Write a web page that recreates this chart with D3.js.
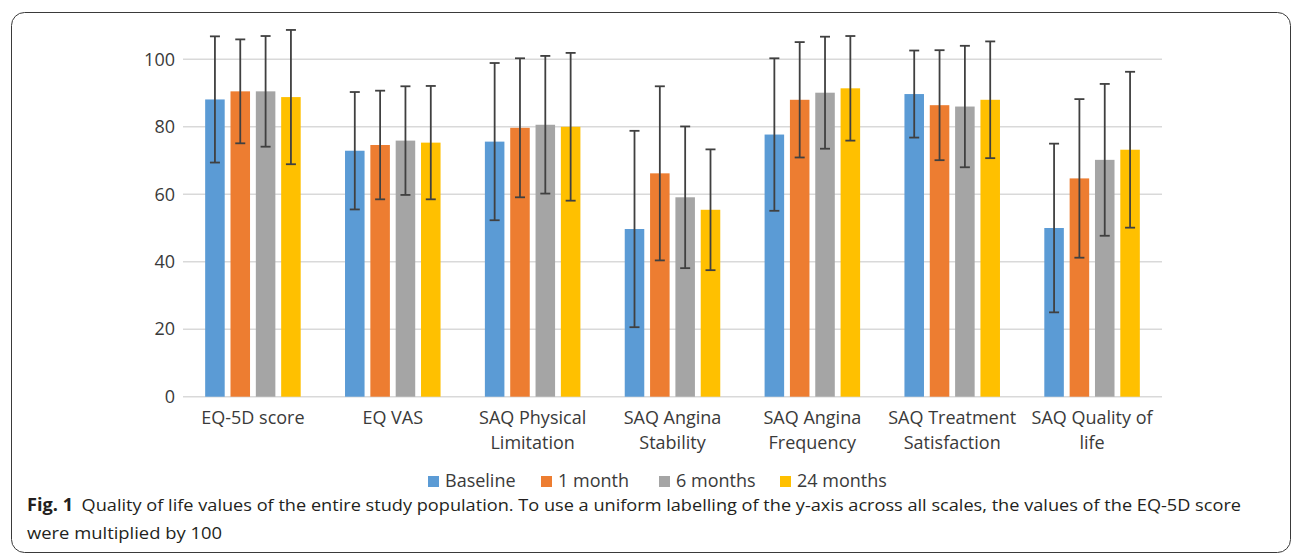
<!DOCTYPE html>
<html>
<head>
<meta charset="utf-8">
<script src="https://cdn.jsdelivr.net/npm/d3@7"></script>
<style>
  html, body { margin: 0; padding: 0; background: #fff; }
  svg { display: block; }
</style>
</head>
<body>
<svg id="chart" width="1296" height="554"></svg>
<script>
// ---------- data ----------
const categories = [
  ["EQ-5D score"],
  ["EQ VAS"],
  ["SAQ Physical", "Limitation"],
  ["SAQ Angina", "Stability"],
  ["SAQ Angina", "Frequency"],
  ["SAQ Treatment", "Satisfaction"],
  ["SAQ Quality of", "life"]
];
const seriesNames = ["Baseline", "1 month", "6 months", "24 months"];
const seriesColors = ["#5B9BD5", "#ED7D31", "#A5A5A5", "#FFC000"];

// means
const baselineMean = [88.1, 72.9, 75.6, 49.7, 77.7, 89.7, 50.0];
const month1Mean   = [90.5, 74.6, 79.7, 66.2, 88.0, 86.4, 64.7];
const month6Mean   = [90.5, 75.9, 80.6, 59.1, 90.1, 86.0, 70.2];
const month24Mean  = [88.8, 75.3, 80.0, 55.4, 91.4, 88.0, 73.2];
// standard deviations (error bars)
const baselineSD = [18.7, 17.4, 23.3, 29.1, 22.6, 12.9, 25.0];
const month1SD   = [15.4, 16.1, 20.6, 25.8, 17.1, 16.3, 23.5];
const month6SD   = [16.4, 16.1, 20.4, 21.0, 16.6, 18.0, 22.5];
const month24SD  = [19.9, 16.8, 21.9, 17.9, 15.5, 17.3, 23.1];

const yTicks = [0, 20, 40, 60, 80, 100];
const captionBold = "Fig. 1";
const captionLine1 = "Quality of life values of the entire study population. To use a uniform labelling of the y-axis across all scales, the values of the EQ-5D score";
const captionLine2 = "were multiplied by 100";

const means = [baselineMean, month1Mean, month6Mean, month24Mean];
const sds = [baselineSD, month1SD, month6SD, month24SD];

// ---------- layout ----------
const svg = d3.select("#chart");
const plotLeft = 183, plotRight = 1162, plotTop = 59.3, plotBottom = 396.7;
const axisFont = "'Open Sans', 'Noto Sans', sans-serif";
const axisSize = 18;
const textColor = "#3a3a3a";

// frame
svg.append("rect")
  .attr("x", 11.5).attr("y", 12.5)
  .attr("width", 1279).attr("height", 540)
  .attr("rx", 13).attr("ry", 13)
  .attr("fill", "none").attr("stroke", "#3a3a3a").attr("stroke-width", 1);

const x0 = d3.scaleBand()
  .domain(d3.range(categories.length))
  .range([plotLeft, plotRight])
  .paddingInner(0).paddingOuter(0);

const x1 = d3.scaleBand()
  .domain(d3.range(seriesNames.length))
  .range([0, x0.bandwidth()])
  .paddingInner(0.229).paddingOuter(0.875);

const y = d3.scaleLinear().domain([0, 100]).range([plotBottom, plotTop]);

// gridlines
svg.append("g").selectAll("line")
  .data(yTicks)
  .join("line")
  .attr("x1", plotLeft).attr("x2", plotRight)
  .attr("y1", d => y(d)).attr("y2", d => y(d))
  .attr("stroke", "#D9D9D9").attr("stroke-width", 1.5);

// y axis labels via d3 axis
const yAxis = d3.axisLeft(y).tickValues(yTicks).tickSize(0).tickPadding(8);
const gy = svg.append("g").attr("transform", `translate(${plotLeft},0)`).call(yAxis);
gy.select(".domain").remove();
gy.selectAll("text")
  .attr("font-family", axisFont).attr("font-size", axisSize)
  .attr("fill", textColor);

// bars
const groups = svg.append("g").selectAll("g")
  .data(categories.map((c, i) => i))
  .join("g")
  .attr("transform", i => `translate(${x0(i)},0)`);

groups.selectAll("rect")
  .data(i => seriesNames.map((s, j) => ({ j, v: means[j][i], sd: sds[j][i] })))
  .join("rect")
  .attr("x", d => x1(d.j))
  .attr("width", x1.bandwidth())
  .attr("y", d => y(d.v))
  .attr("height", d => y(0) - y(d.v))
  .attr("fill", d => seriesColors[d.j]);

// error bars
const eb = groups.selectAll("g.err")
  .data(i => seriesNames.map((s, j) => ({ j, v: means[j][i], sd: sds[j][i] })))
  .join("g").attr("class", "err")
  .attr("stroke", "#404040").attr("stroke-width", 1.8);
eb.append("line")
  .attr("x1", d => x1(d.j) + x1.bandwidth() / 2)
  .attr("x2", d => x1(d.j) + x1.bandwidth() / 2)
  .attr("y1", d => y(d.v + d.sd)).attr("y2", d => y(d.v - d.sd));
eb.append("line")
  .attr("x1", d => x1(d.j) + x1.bandwidth() / 2 - 5)
  .attr("x2", d => x1(d.j) + x1.bandwidth() / 2 + 5)
  .attr("y1", d => y(d.v + d.sd)).attr("y2", d => y(d.v + d.sd));
eb.append("line")
  .attr("x1", d => x1(d.j) + x1.bandwidth() / 2 - 5)
  .attr("x2", d => x1(d.j) + x1.bandwidth() / 2 + 5)
  .attr("y1", d => y(d.v - d.sd)).attr("y2", d => y(d.v - d.sd));

// category labels
const xl = svg.append("g").selectAll("text")
  .data(categories.map((c, i) => ({ c, i })))
  .join("text")
  .attr("x", d => x0(d.i) + x0.bandwidth() / 2)
  .attr("y", 424)
  .attr("text-anchor", "middle")
  .attr("font-family", axisFont).attr("font-size", axisSize)
  .attr("fill", textColor);
xl.selectAll("tspan")
  .data(d => d.c.map((t, k) => ({ t, k, x: x0(d.i) + x0.bandwidth() / 2 })))
  .join("tspan")
  .attr("x", d => d.x)
  .attr("dy", d => d.k === 0 ? 0 : 25)
  .text(d => d.t);

// legend
const legendX = [428, 541, 659, 780];
const lg = svg.append("g").selectAll("g")
  .data(seriesNames.map((s, j) => ({ s, j })))
  .join("g")
  .attr("transform", d => `translate(${legendX[d.j]},476)`);
lg.append("rect").attr("width", 11).attr("height", 11)
  .attr("fill", d => seriesColors[d.j]);
lg.append("text").attr("x", 17).attr("y", 11)
  .attr("font-family", axisFont).attr("font-size", axisSize)
  .attr("fill", textColor)
  .text(d => d.s);

// caption
const capFont = "'Open Sans', 'Noto Sans', sans-serif";
const cap = svg.append("text")
  .attr("x", 27).attr("y", 511)
  .attr("font-family", capFont).attr("font-size", 17)
  .attr("fill", "#231f20");
cap.append("tspan").attr("font-weight", "bold").text(captionBold);
cap.append("tspan").attr("dx", 8).text(captionLine1);
cap.attr("textLength", 1241 - 27).attr("lengthAdjust", "spacingAndGlyphs");
svg.append("text")
  .attr("x", 27).attr("y", 539)
  .attr("font-family", capFont).attr("font-size", 17)
  .attr("fill", "#231f20")
  .attr("textLength", 195).attr("lengthAdjust", "spacingAndGlyphs")
  .text(captionLine2);
</script>
</body>
</html>
